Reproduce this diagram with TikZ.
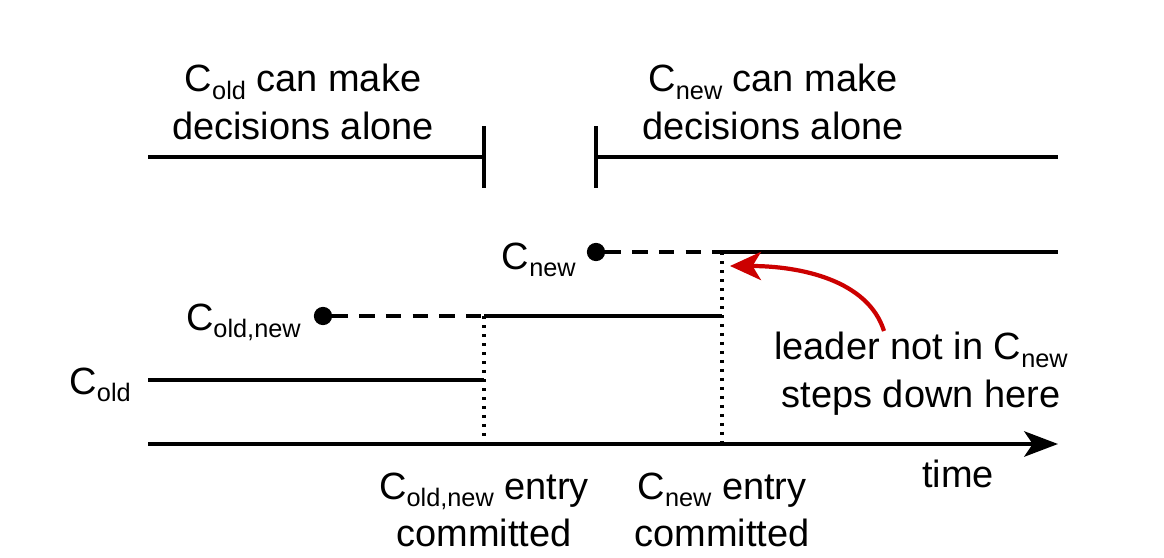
\documentclass[tikz,border=0pt]{standalone}
\usepackage{fontspec}
\setmainfont{Liberation Sans}
\usetikzlibrary{arrows.meta}
\definecolor{leaderred}{RGB}{204,0,0}
\newcommand{\cfg}[1]{C\raisebox{-0.2em}{\fontsize{18}{18}\selectfont #1}}

\begin{document}
\begin{tikzpicture}[x=0.025cm, y=-0.025cm,
    txt/.style={font=\fontsize{27}{34}\selectfont, align=center, inner sep=0pt},
    phase/.style={line width=3pt},
    dot/.style={circle, fill=black, inner sep=0pt, minimum size=13pt},
    pending/.style={line width=3pt, dash pattern=on 11pt off 8pt},
    marker/.style={line width=2.3pt, dash pattern=on 2.4pt off 4pt}]
  \useasboundingbox (0,0) rectangle (1164,558);

  % who decides
  \node[txt] (oldtxt) at (303,102) {\cfg{old} can make\\decisions alone};
  \node[txt] (newtxt) at (773,102) {\cfg{new} can make\\decisions alone};
  \coordinate (oldA) at (148,157);
  \coordinate (oldB) at (484,157);
  \coordinate (newA) at (596,157);
  \coordinate (newB) at (1058,157);
  \draw[phase] (oldA) -- (oldB);
  \draw[phase] ([yshift=-22]oldB) -- ([yshift=22]oldB);
  \draw[phase] (newA) -- (newB);
  \draw[phase] ([yshift=-22]newA) -- ([yshift=22]newA);

  % configurations
  \node[dot] (newdot) at (596,252) {};
  \node[dot] (middot) at (323,316) {};
  \node[txt, anchor=base east] (newlbl) at (576,269) {\cfg{new}};
  \node[txt, anchor=base east] (midlbl) at (301,330) {\cfg{old,new}};
  \node[txt, anchor=base east] (oldlbl) at (131,394) {\cfg{old}};
  \coordinate (c1) at (484,316);
  \coordinate (c2) at (722,252);
  \coordinate (c2mid) at (722,316);
  \coordinate (newend) at (1058,252);
  \coordinate (oldstart) at (148,380);
  \coordinate (c1old) at (484,380);
  \draw[pending] (newdot) -- (c2);
  \draw[phase] (c2) -- (newend);
  \draw[pending] (middot) -- (c1);
  \draw[phase] (c1) -- (c2mid);
  \draw[phase] (oldstart) -- (c1old);

  % time axis
  \coordinate (t0) at (148,444);
  \coordinate (t1) at (1058,444);
  \coordinate (c1t) at (484,444);
  \coordinate (c2t) at (722,444);
  \draw[phase, -{Stealth[length=24pt, width=18pt, inset=6pt]}] (t0) -- (t1);
  \draw[marker] (c1) -- (c1t);
  \draw[marker] (c2) -- (c2t);
  \node[txt] (timelbl) at (958,474) {time};
  \node[txt] (c1lbl) at (484,510) {\cfg{old,new} entry\\committed};
  \node[txt] (c2lbl) at (722,510) {\cfg{new} entry\\committed};

  % leader steps down
  \node[txt] (leader) at (921,374) {leader not in \cfg{new}\\steps down here};
  \coordinate (stepdown) at (730,266);
  \draw[leaderred, line width=3pt, -{Stealth[length=22pt, width=20pt, inset=6pt]}]
    (884,331) .. controls (868,280) and (800,266) .. (stepdown);
\end{tikzpicture}
\end{document}
